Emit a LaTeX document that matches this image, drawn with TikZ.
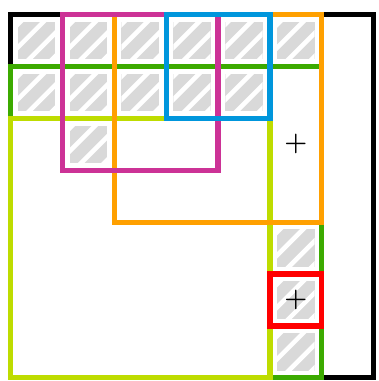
\documentclass[tikz,border=0pt]{standalone}
\usepackage{amsmath,bm}
\usepackage{xcolor}
\usepackage{tikz}
\definecolor{hatchgray}{RGB}{217,217,217}
\definecolor{rowgreen}{RGB}{60,170,0}
\definecolor{limecolor}{RGB}{190,220,0}
\definecolor{magcolor}{RGB}{204,50,150}
\definecolor{orgcolor}{RGB}{255,160,0}
\definecolor{bluecolor}{RGB}{0,150,220}

\begin{document}
\begin{tikzpicture}[font=\Large]
  \tikzset{blockline/.style={line width=0.1cm}}
  \useasboundingbox (-0.2,0.28) rectangle (7.1,-7.06);
  % ---------------- hatched cells
  \foreach \c/\r in {0/0,1/0,2/0,3/0,4/0,5/0,0/1,1/1,2/1,3/1,4/1,1/2,5/4,5/5,5/6} {
    \begin{scope}[shift={(\c+0.14,-\r-0.86)},scale=0.72]
      \fill[hatchgray] (0,0) rectangle (1,1);
      \clip (0,0) rectangle (1,1);
      \foreach \d in {-0.93,-0.31,0.31,0.93}
        \draw[white,line width=2.5pt] (\d-1,-1) -- (\d+2,2);
    \end{scope}
  }
  % ---------------- blocks
  \draw[blockline,black] (0,0) rectangle (7,-7);
  \draw[blockline,rowgreen] (0,-1) rectangle (6,-7);
  \draw[blockline,limecolor] (0,-2) rectangle (5,-7);
  \draw[blockline,orgcolor] (2,0) rectangle (6,-4);
  \draw[blockline,magcolor] (1,0) rectangle (4,-3);
  \draw[blockline,bluecolor] (3,0) rectangle (5,-2);
  \draw[blockline,red] (5,-5) rectangle (6,-6);
  % ---------------- marks
  \node (plusA) at (5.5,-2.5) {$\bm{+}$};
  \node (plusB) at (5.5,-5.5) {$\bm{+}$};
\end{tikzpicture}
\end{document}
